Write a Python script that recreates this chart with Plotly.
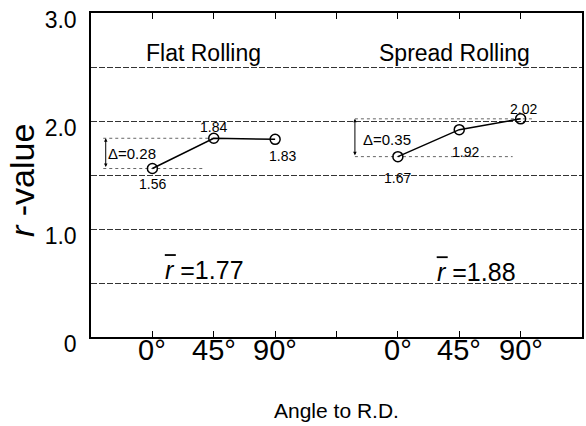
import plotly.graph_objects as go

angle_labels = ["0°", "45°", "90°"]
flat_x = [1, 2, 3]
flat_r = [1.56, 1.84, 1.83]
spread_x = [5, 6, 7]
spread_r = [1.67, 1.92, 2.02]
flat_mean = 1.77
spread_mean = 1.88
flat_delta = 0.28
spread_delta = 0.35

FONT = "Liberation Sans, Arial, sans-serif"
fig = go.Figure()

dot = dict(color="#666666", width=1, dash="dot")
# reference dotted lines
fig.add_trace(go.Scatter(x=[0.2, 2.0], y=[max(flat_r)] * 2, mode="lines", line=dot, hoverinfo="skip"))
fig.add_trace(go.Scatter(x=[0.2, 1.82], y=[min(flat_r)] * 2, mode="lines", line=dot, hoverinfo="skip"))
fig.add_trace(go.Scatter(x=[4.3, 7.2], y=[max(spread_r)] * 2, mode="lines", line=dot, hoverinfo="skip"))
fig.add_trace(go.Scatter(x=[4.3, 6.87], y=[min(spread_r)] * 2, mode="lines", line=dot, hoverinfo="skip"))

for xs, ys in [(flat_x, flat_r), (spread_x, spread_r)]:
    fig.add_trace(go.Scatter(
        x=xs, y=ys, mode="lines+markers",
        line=dict(color="black", width=1.5),
        marker=dict(symbol="circle-open", size=10, color="black", line=dict(width=1.5)),
    ))

ann = []
shapes = []
def txt(x, y, s, size=14, **kw):
    ann.append(dict(x=x, y=y, xref="x", yref="y", text=s, showarrow=False,
                    font=dict(family=FONT, size=size, color="black"), **kw))

# value labels
txt(flat_x[0], flat_r[0], f"{flat_r[0]:.2f}", yshift=-15)
txt(flat_x[1], flat_r[1], f"{flat_r[1]:.2f}", yshift=11)
txt(flat_x[2], flat_r[2], f"{flat_r[2]:.2f}", xshift=7, yshift=-17)
txt(spread_x[0], spread_r[0], f"{spread_r[0]:.2f}", yshift=-21)
txt(spread_x[1], spread_r[1], f"{spread_r[1]:.2f}", xshift=6, yshift=-22)
txt(spread_x[2], spread_r[2], f"{spread_r[2]:.2f}", xshift=3, yshift=10)

# delta labels
txt(0.66, 1.70, f"Δ={flat_delta:.2f}", size=15)
txt(4.83, 1.83, f"Δ={spread_delta:.2f}", size=15)

# double arrows
for x, y0, y1 in [(0.24, min(flat_r), max(flat_r)), (4.3, min(spread_r), max(spread_r))]:
    ann.append(dict(x=x, y=y1, ax=x, ay=y0, xref="x", yref="y", axref="x", ayref="y",
                    text="", showarrow=True, arrowhead=2, arrowside="end+start",
                    arrowsize=0.7, arrowwidth=1, arrowcolor="black"))

# titles inside
txt(1.84, 2.63, "Flat Rolling", size=23)
txt(5.92, 2.63, "Spread Rolling", size=23)

# mean r-bar labels: italic r with a bar drawn over it
for xl, yl, m in [(1.17, 0.62, flat_mean), (5.60, 0.60, spread_mean)]:
    txt(xl, yl, "<i>r</i> =" + f"{m:.2f}", size=25, xanchor="left")
    shapes.append(dict(type="line", xref="x", yref="y",
                       xsizemode="pixel", xanchor=xl, x0=2, x1=13,
                       ysizemode="pixel", yanchor=yl, y0=15, y1=15,
                       line=dict(color="black", width=1.8)))

# x tick labels (angles) for both groups
for xs in (flat_x, spread_x):
    for xv, lab in zip(xs, angle_labels):
        ann.append(dict(x=xv, y=0, xref="x", yref="paper", yanchor="middle", yshift=-13,
                        text=lab, showarrow=False,
                        font=dict(family=FONT, size=29, color="black")))

# y-axis title
ann.append(dict(x=0, y=0.5, xref="paper", yref="paper", xshift=-69, yshift=-6,
                xanchor="center", yanchor="middle", textangle=-90,
                text="<i>r</i> -value", showarrow=False,
                font=dict(family=FONT, size=34, color="black")))
# x-axis title
ann.append(dict(x=0.5, y=0, xref="paper", yref="paper", yshift=-73, yanchor="middle",
                text="Angle to R.D.", showarrow=False,
                font=dict(family=FONT, size=21, color="black")))

fig.update_layout(
    width=586, height=426,
    margin=dict(l=91, r=2, t=13, b=89),
    paper_bgcolor="white", plot_bgcolor="white",
    showlegend=False,
    annotations=ann,
    shapes=shapes,
    xaxis=dict(
        range=[0, 8], tickvals=[1, 2, 3, 4, 5, 6, 7], showticklabels=False,
        ticks="inside", ticklen=6, tickwidth=1.3, tickcolor="black",
        showline=True, linecolor="black", linewidth=1.5, mirror="ticks",
        showgrid=False, zeroline=False,
    ),
    yaxis=dict(
        range=[0, 3], tickvals=[0, 1, 2, 3], ticktext=["0", "1.0", "2.0", "3.0"],
        ticks="", showline=True, linecolor="black", linewidth=1.5, mirror=True,
        showgrid=True, gridcolor="#333333", griddash="6px,2px", gridwidth=1,
        minor=dict(dtick=0.5, showgrid=True, gridcolor="#333333", griddash="6px,2px", gridwidth=1),
        zeroline=False,
        tickfont=dict(family=FONT, size=23, color="black"),
        ticklabelshift=7, ticklabelstandoff=8,
    ),
)

fig.write_html("out.html")
